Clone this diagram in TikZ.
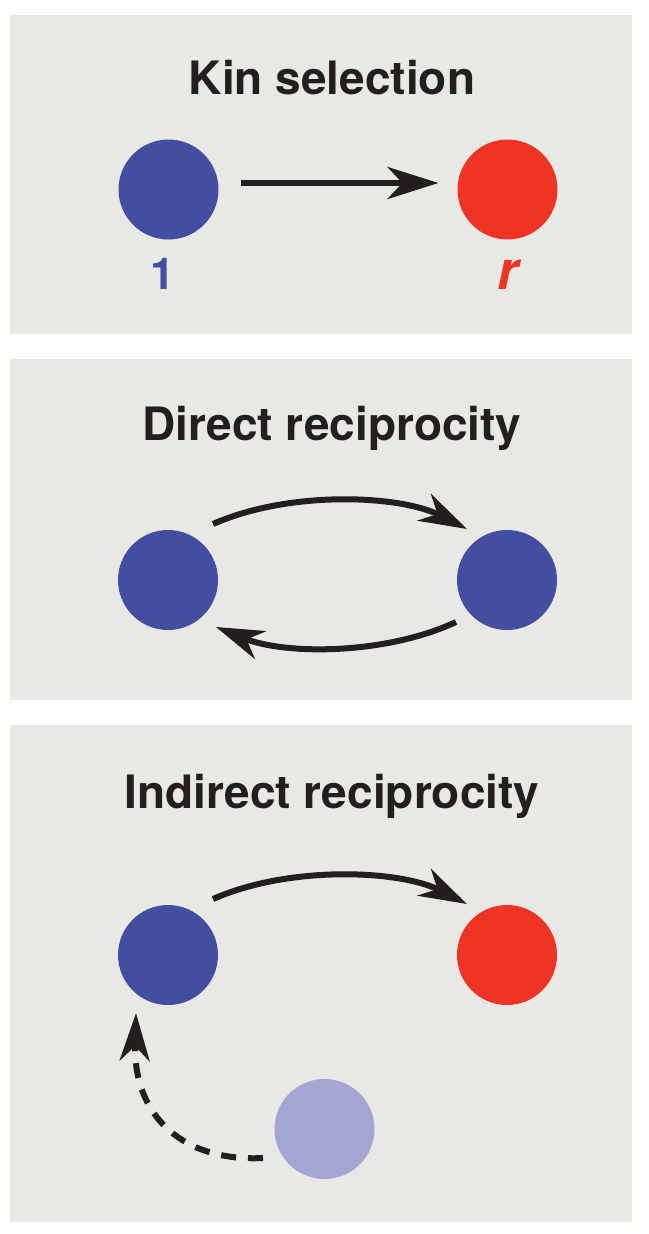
\documentclass[tikz,border=0pt]{standalone}
\usepackage{fontspec}
\setmainfont{TeX Gyre Heros}
\usetikzlibrary{arrows.meta}
\definecolor{panelbg}{HTML}{E8E8E4}
\definecolor{dblue}{HTML}{434EA0}
\definecolor{dred}{HTML}{EE3424}
\definecolor{lpurple}{HTML}{A5A5D2}
\definecolor{ink}{HTML}{231F20}
\begin{document}
\begin{tikzpicture}[x=1pt,y=-1pt,
  panel/.style={fill=panelbg,draw=none},
  agent/.style={circle,minimum size=100pt,inner sep=0pt,draw=none},
  ttl/.style={anchor=base,text=ink,font=\fontsize{46}{50}\selectfont\bfseries},
  arr/.style={draw=ink,line width=6pt,-{Stealth[length=48pt,width=30pt,inset=15pt]}},
  dasharr/.style={arr,dash pattern=on 15pt off 12pt}]
\useasboundingbox[fill=white] (0,0) rectangle (648,1234);
% panels
\fill[panel] (10,15) rectangle (632,334);
\fill[panel] (10,359) rectangle (632,700);
\fill[panel] (10,725) rectangle (632,1222);
% titles
\node[ttl] (t1) at (332,94) {Kin selection};
\node[ttl] (t2) at (332,440) {Direct reciprocity};
\node[ttl] (t3) at (332,808) {Indirect reciprocity};
% panel 1
\node[agent,fill=dblue] (k1) at (168.5,189.5) {};
\node[agent,fill=dred] (k2) at (507.5,189.5) {};
\node[anchor=base,text=dblue,font=\fontsize{44}{48}\selectfont\bfseries] (l1) at (163,289) {1};
\node[anchor=base,text=dred,font=\fontsize{54}{58}\selectfont\bfseries\itshape] (l2) at (508,289) {r};
\draw[arr,-{Stealth[length=51pt,width=32pt,inset=15pt]}] ([shift={(72,-6.5)}]k1.center) -- ([shift={(-69,-6.5)}]k2.center);
% panel 2
\node[agent,fill=dblue] (d1) at (168,580) {};
\node[agent,fill=dblue] (d2) at (507,580) {};
\draw[arr] ([shift={(45,-56)}]d1.center) .. controls ([shift={(122,-90)}]d1.center) and ([shift={(-107,-85)}]d2.center) .. ([shift={(-40,-51)}]d2.center);
\draw[arr] ([shift={(-51,42)}]d2.center) .. controls ([shift={(-122,75)}]d2.center) and ([shift={(117,75)}]d1.center) .. ([shift={(48,47)}]d1.center);
% panel 3
\node[agent,fill=dblue] (i1) at (168,955) {};
\node[agent,fill=dred] (i2) at (507,955) {};
\node[agent,fill=lpurple] (i3) at (324.5,1129) {};
\draw[arr] ([shift={(45,-56)}]i1.center) .. controls ([shift={(122,-90)}]i1.center) and ([shift={(-107,-85)}]i2.center) .. ([shift={(-40,-51)}]i2.center);
\draw[dasharr] ([shift={(-61.5,29)}]i3.center) .. controls ([shift={(-139.5,33)}]i3.center) and ([shift={(-35,163)}]i1.center) .. ([shift={(-32,58)}]i1.center);
\end{tikzpicture}
\end{document}
